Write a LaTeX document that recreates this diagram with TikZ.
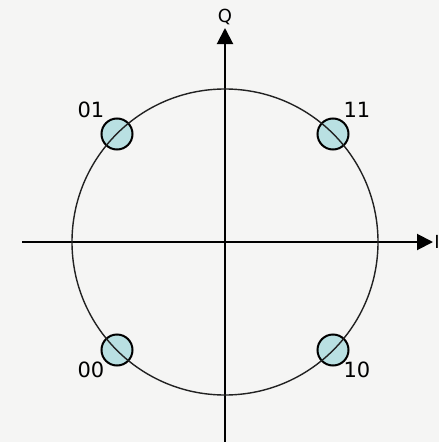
\documentclass[tikz,border=0pt]{standalone}
\usepackage{fontspec}
\setmainfont{DejaVu Sans}
\usepackage{xcolor}
\definecolor{PaperBg}{RGB}{245,245,244}
\definecolor{SymFill}{RGB}{185,224,226}
\definecolor{InkGrey}{RGB}{34,34,34}
\usetikzlibrary{arrows.meta, positioning}

\begin{document}
\begin{tikzpicture}[
        x=1pt, y=-1pt,
        font=\fontsize{21}{21}\selectfont,
        % Styles
        axis/.style={-{Triangle[length=16pt,width=16pt]}, line width=2pt, draw=black},
        unit/.style={draw=InkGrey, line width=1.4pt},
        sym/.style={circle, draw=black, line width=2pt, fill=SymFill, minimum size=31pt, inner sep=0pt},
        bits/.style={text=black, inner sep=0pt},
        axlabel/.style={text=black, inner sep=0pt, font=\fontsize{18}{18}\selectfont}
    ]
    % 0. PAPER
    \fill[PaperBg] (0,0) rectangle (439,442);
    \useasboundingbox (0,0) rectangle (439,442);

    % 1. AXES
    \coordinate (o) at (225,242);
    \coordinate (west) at (22,242);
    \coordinate (east) at (433,242);
    \coordinate (south) at (225,445);
    \coordinate (north) at (225,28);
    \draw[axis] (west) -- (east);
    \draw[axis] (south) -- (north);
    \node[axlabel] (ilab) at (437,242) {I};
    \node[axlabel] (qlab) at (225,17) {Q};

    % 2. SYMBOLS (QPSK)
    \node[sym] (s01) at (117,134) {};
    \node[sym] (s11) at (333,134) {};
    \node[sym] (s00) at (117,350) {};
    \node[sym] (s10) at (333,350) {};

    % 3. UNIT CIRCLE (over the symbols)
    \draw[unit] (o) circle[radius=153];

    % 4. BIT LABELS
    \node[bits] (b01) at (91,110) {01};
    \node[bits] (b11) at (357,110) {11};
    \node[bits] (b00) at (91,370) {00};
    \node[bits] (b10) at (357,370) {10};
\end{tikzpicture}
\end{document}
